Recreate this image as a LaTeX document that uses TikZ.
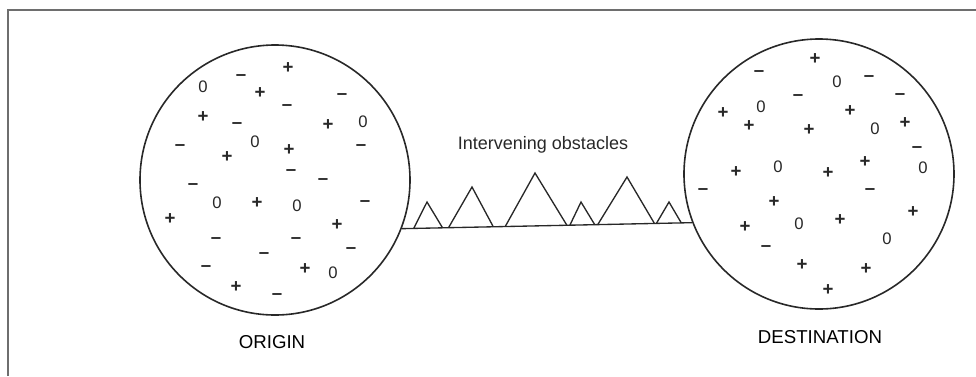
\documentclass[tikz,border=0pt]{standalone}
\usepackage{fontspec}
\setmainfont{Liberation Sans}
\usetikzlibrary{positioning, calc}
\definecolor{framegray}{RGB}{110, 110, 110}
\definecolor{inkgray}{RGB}{40, 40, 40}

\begin{document}
\begin{tikzpicture}[
  x=0.75pt, y=-0.75pt,
  zone/.style={draw=inkgray, circle, line width=1.2pt, minimum size=202.5pt, inner sep=0pt},
  caption/.style={font=\fontsize{14}{16}\selectfont, inner sep=0pt},
  sym/.style={font=\fontsize{14}{16}\selectfont\bfseries, text=inkgray, inner sep=0pt},
  obst/.style={draw=inkgray, line width=1pt, line join=miter}
]
  \useasboundingbox (0,0) rectangle (976,376);
  % frame
  \draw[framegray, line width=1.1pt] (8,376) -- (8,10) -- (976,10);

  % origin and destination
  \node[zone] (origin) at (275,180) {};
  \node[zone] (destination) at (819,174) {};
  \node[caption] (originlabel) at (272,342) {ORIGIN};
  \node[caption] (destlabel) at (820,337) {DESTINATION};

  % the route and its obstacles
  \draw[obst] (origin.-21) -- (destination.201);
  \foreach \a/\b/\c/\h in {413/427/442/202, 448/472/493/187, 505/535/567/173,
                           570/581/595/202, 598/627/655/177, 657/669/682/202}
    \draw[obst] ($(origin.-21)!{(\a-401)/292}!(destination.201)$) -- (\b,\h)
                -- ($(origin.-21)!{(\c-401)/292}!(destination.201)$);
  \node[font=\fontsize{13.5}{15}\selectfont, text=inkgray] (obstlabel) at (543,145) {Intervening obstacles};

  % plus signs
  \foreach \x/\y in {288/68, 260/93, 203/117, 328/125, 227/157, 289/150, 257/203,
                     170/219, 337/225, 305/269, 236/287,
                     815/59, 723/113, 850/111, 749/126, 809/130, 905/123, 736/172,
                     828/173, 865/162, 774/202, 913/212, 745/227, 840/220, 802/265,
                     866/269, 828/290}
    \node[sym] at (\x,\y) {+};
  % minus signs
  \foreach \x/\y in {241/78, 342/97, 287/108, 237/126, 180/148, 361/148, 291/173,
                     193/187, 323/182, 365/204, 216/241, 296/241, 351/251, 264/256,
                     206/269, 277/297,
                     759/74, 869/79, 798/98, 900/97, 917/150, 703/192, 870/192, 766/249}
    \node[sym] at (\x,\y) {\textendash};
  % zeros
  \foreach \x/\y in {203/87, 363/122, 255/142, 217/203, 297/206, 333/273,
                     837/82, 761/107, 875/129, 778/167, 923/168, 799/224, 887/239}
    \node[sym, font=\fontsize{12.5}{14}\selectfont] at (\x,\y) {0};
\end{tikzpicture}
\end{document}
